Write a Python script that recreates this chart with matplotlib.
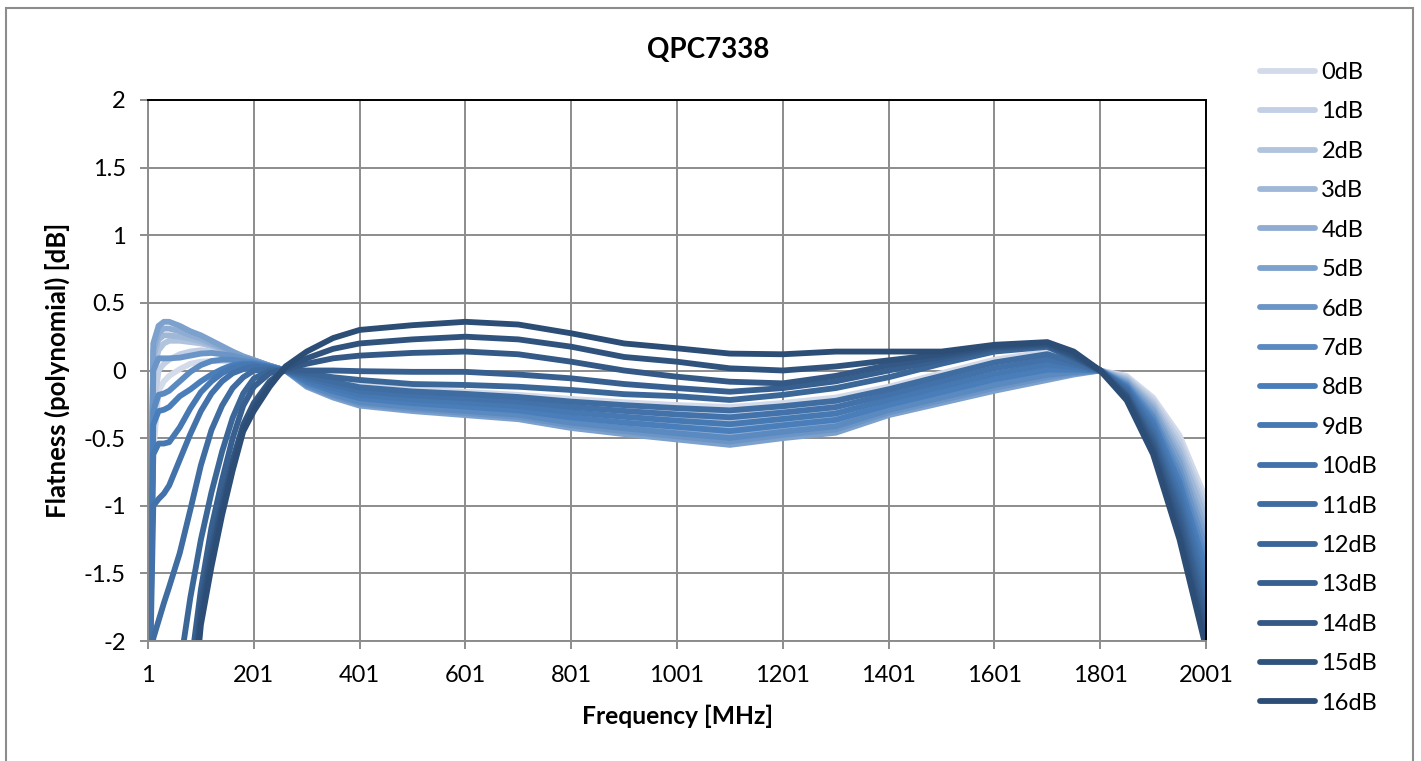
import numpy as np
import matplotlib.pyplot as plt
from matplotlib.colors import to_rgb
from matplotlib.patches import Rectangle

nan = np.nan

# frequency points [MHz]
freq = [1, 11, 21, 31, 41, 61, 81, 101, 121, 141, 161, 181, 201, 231, 261,
        301, 351, 401, 501, 601, 701, 801, 901, 1001, 1101, 1201, 1301, 1401,
        1501, 1601, 1701, 1751, 1801, 1851, 1901, 1951, 2001]

# flatness [dB] per attenuation state
db_0 = [-3.0, -0.6, -0.15, -0.08, -0.04, 0.01, 0.05, 0.065, 0.07, 0.07, 0.06, 0.05, 0.04, 0.02, 0.0,
        -0.03, -0.07, -0.11, -0.14, -0.157, -0.18, -0.21, -0.235, -0.255, -0.27, -0.24, -0.2, -0.12,
        -0.02, 0.08, 0.14, 0.07, 0.0, -0.04, -0.2, -0.48, -0.95]
db_1 = [-3.0, -0.3, 0.0, 0.05, 0.08, 0.12, 0.14, 0.15, 0.14, 0.13, 0.11, 0.09, 0.07, 0.03, 0.0,
        -0.046, -0.094, -0.137, -0.169, -0.188, -0.213, -0.249, -0.278, -0.301, -0.321, -0.287, -0.247, -0.158,
        -0.06, 0.038, 0.102, 0.052, 0.0, -0.05, -0.22, -0.52, -1.0]
db_2 = [-3.0, 0.0, 0.15, 0.2, 0.22, 0.22, 0.21, 0.2, 0.18, 0.155, 0.13, 0.1, 0.075, 0.035, 0.0,
        -0.063, -0.117, -0.165, -0.198, -0.22, -0.245, -0.288, -0.32, -0.348, -0.372, -0.335, -0.295, -0.196,
        -0.1, -0.004, 0.064, 0.034, 0.0, -0.06, -0.24, -0.56, -1.05]
db_3 = [-3.0, 0.1, 0.23, 0.26, 0.26, 0.25, 0.235, 0.215, 0.19, 0.16, 0.135, 0.1, 0.075, 0.035, 0.0,
        -0.079, -0.141, -0.192, -0.227, -0.251, -0.278, -0.327, -0.363, -0.394, -0.423, -0.382, -0.342, -0.235,
        -0.14, -0.045, 0.025, 0.015, 0.0, -0.07, -0.26, -0.6, -1.1]
db_4 = [-3.0, 0.15, 0.28, 0.31, 0.31, 0.29, 0.26, 0.235, 0.2, 0.165, 0.135, 0.1, 0.075, 0.035, 0.0,
        -0.095, -0.165, -0.219, -0.256, -0.283, -0.311, -0.366, -0.406, -0.44, -0.474, -0.429, -0.389, -0.273,
        -0.18, -0.087, -0.013, -0.003, 0.0, -0.08, -0.28, -0.64, -1.18]
db_5 = [-3.0, 0.2, 0.33, 0.36, 0.36, 0.33, 0.29, 0.26, 0.22, 0.18, 0.14, 0.105, 0.078, 0.035, 0.0,
        -0.12, -0.2, -0.26, -0.3, -0.33, -0.36, -0.425, -0.47, -0.51, -0.55, -0.5, -0.46, -0.33,
        -0.24, -0.15, -0.07, -0.03, 0.0, -0.09, -0.3, -0.68, -1.25]
db_6 = [-3.0, 0.0, 0.09, 0.09, 0.09, 0.095, 0.11, 0.125, 0.13, 0.12, 0.11, 0.09, 0.07, 0.035, 0.0,
        -0.112, -0.188, -0.246, -0.285, -0.314, -0.344, -0.405, -0.449, -0.487, -0.525, -0.476, -0.436, -0.311,
        -0.22, -0.129, -0.051, -0.021, 0.0, -0.1, -0.33, -0.73, -1.32]
db_7 = [-3.0, -0.3, -0.18, -0.17, -0.15, -0.08, -0.01, 0.04, 0.07, 0.08, 0.08, 0.07, 0.06, 0.03, 0.0,
        -0.104, -0.176, -0.233, -0.271, -0.299, -0.327, -0.386, -0.427, -0.464, -0.499, -0.453, -0.413, -0.292,
        -0.2, -0.108, -0.032, -0.012, 0.0, -0.11, -0.35, -0.78, -1.4]
db_8 = [-3.0, -0.4, -0.3, -0.29, -0.27, -0.19, -0.14, -0.08, -0.03, 0.01, 0.04, 0.05, 0.05, 0.03, 0.0,
        -0.087, -0.153, -0.205, -0.242, -0.267, -0.295, -0.347, -0.385, -0.417, -0.448, -0.405, -0.365, -0.254,
        -0.16, -0.066, 0.006, 0.006, 0.0, -0.12, -0.38, -0.83, -1.47]
db_9 = [-3.0, -0.62, -0.54, -0.54, -0.53, -0.42, -0.28, -0.16, -0.08, -0.02, 0.02, 0.04, 0.04, 0.02, 0.0,
        -0.071, -0.129, -0.178, -0.213, -0.236, -0.262, -0.308, -0.342, -0.371, -0.397, -0.358, -0.318, -0.215,
        -0.12, -0.025, 0.045, 0.025, 0.0, -0.13, -0.41, -0.88, -1.55]
db_10 = [-3.0, -1.0, -0.95, -0.91, -0.85, -0.66, -0.47, -0.3, -0.17, -0.08, -0.02, 0.01, 0.03, 0.02, 0.0,
         -0.055, -0.105, -0.151, -0.184, -0.204, -0.229, -0.269, -0.299, -0.325, -0.346, -0.311, -0.271, -0.177,
         -0.08, 0.017, 0.083, 0.043, 0.0, -0.14, -0.44, -0.93, -1.62]
db_11 = [-2.6, -1.98, -1.85, -1.72, -1.6, -1.35, -1.03, -0.7, -0.44, -0.26, -0.13, -0.05, 0.0, 0.01, 0.0,
         -0.038, -0.082, -0.124, -0.155, -0.173, -0.196, -0.23, -0.256, -0.278, -0.295, -0.264, -0.224, -0.139,
         -0.04, 0.059, 0.121, 0.061, 0.0, -0.15, -0.47, -0.98, -1.7]
db_12 = [nan, nan, nan, nan, nan, -2.2, -1.68, -1.25, -0.9, -0.6, -0.35, -0.17, -0.06, 0.0, 0.0,
         -0.02, -0.05, -0.07, -0.1, -0.107, -0.12, -0.144, -0.175, -0.19, -0.218, -0.18, -0.13, -0.05,
         0.05, 0.14, 0.175, 0.09, 0.0, -0.17, -0.5, -1.03, -1.78]
db_13 = [nan, nan, nan, nan, nan, nan, -2.22, -1.62, -1.16, -0.81, -0.5, -0.26, -0.12, -0.02, 0.01,
         0.0, 0.0, -0.005, -0.01, -0.01, -0.03, -0.058, -0.1, -0.13, -0.157, -0.13, -0.08, 0.0,
         0.08, 0.16, 0.185, 0.1, 0.0, -0.18, -0.53, -1.08, -1.85]
db_14 = [nan, nan, nan, nan, nan, nan, -2.5, -1.72, -1.32, -0.97, -0.66, -0.4, -0.24, -0.08, 0.01,
         0.05, 0.09, 0.11, 0.13, 0.14, 0.12, 0.065, 0.0, -0.046, -0.083, -0.095, -0.04, 0.04,
         0.1, 0.17, 0.19, 0.11, 0.0, -0.19, -0.56, -1.14, -1.93]
db_15 = [nan, nan, nan, nan, nan, nan, -2.6, -1.8, -1.38, -1.02, -0.7, -0.42, -0.27, -0.1, 0.02,
         0.09, 0.16, 0.2, 0.23, 0.25, 0.23, 0.176, 0.1, 0.065, 0.016, 0.0, 0.03, 0.075,
         0.12, 0.18, 0.2, 0.12, 0.0, -0.2, -0.59, -1.2, -2.0]
db_16 = [nan, nan, nan, nan, nan, nan, -2.7, -1.88, -1.45, -1.07, -0.74, -0.45, -0.3, -0.12, 0.03,
         0.14, 0.24, 0.3, 0.335, 0.36, 0.34, 0.275, 0.2, 0.164, 0.125, 0.12, 0.14, 0.14,
         0.14, 0.19, 0.21, 0.14, 0.0, -0.22, -0.62, -1.25, -2.05]

series = [db_0, db_1, db_2, db_3, db_4, db_5, db_6, db_7, db_8,
          db_9, db_10, db_11, db_12, db_13, db_14, db_15, db_16]
labels = [f'{i}dB' for i in range(17)]

plt.rcParams['font.family'] = ['Lato', 'DejaVu Sans']

# monochrome blue ramp, light -> accent -> dark
light = np.array(to_rgb('#d3dbea'))
accent = np.array(to_rgb('#4a7ebb'))
dark = np.array(to_rgb('#2c4d75'))
colors = []
for i in range(17):
    if i <= 8:
        colors.append(light + (accent - light) * i / 8)
    else:
        colors.append(accent + (dark - accent) * (i - 8) / 8)

W, H = 1421, 761
fig = plt.figure(figsize=(W / 100, H / 100), dpi=100)
ax = fig.add_axes([148 / W, 1 - 641 / H, (1206 - 148) / W, (641 - 100) / H])

for vals, c, lab in zip(series, colors, labels):
    ax.plot(freq, vals, color=c, lw=4.2, label=lab,
            solid_joinstyle='round', solid_capstyle='round')

ax.set_xlim(1, 2001)
ax.set_ylim(-2, 2)
ax.set_xticks(range(1, 2002, 200))
ax.set_yticks(np.arange(-2, 2.01, 0.5))
ax.set_yticklabels(['-2', '-1.5', '-1', '-0.5', '0', '0.5', '1', '1.5', '2'])
ax.grid(color='#8c8c8c', lw=1.4)
ax.set_axisbelow(True)
ax.tick_params(direction='out', length=6, width=1.4, color='#8c8c8c', labelsize=17)
ax.tick_params(axis='x', pad=11)
ax.tick_params(axis='y', pad=10)
for s in ['left', 'bottom']:
    ax.spines[s].set_color('#8c8c8c')
    ax.spines[s].set_linewidth(1.4)
for s in ['top', 'right']:
    ax.spines[s].set_color('black')
    ax.spines[s].set_linewidth(1.4)

fig.text(708 / W, 1 - 50 / H, 'QPC7338', ha='center', va='center',
         fontsize=20, fontweight='bold')
fig.text(57 / W, 1 - 370 / H, 'Flatness (polynomial) [dB]', rotation=90,
         ha='center', va='center', fontsize=18.5, fontweight='bold')
fig.text(677 / W, 1 - 716 / H, 'Frequency [MHz]', ha='center', va='center',
         fontsize=17.7, fontweight='bold')

fig.legend(loc='upper left', bbox_to_anchor=(1260 / W, 1 - 62 / H), frameon=False,
           fontsize=17, handlelength=2.35, handletextpad=0.25, labelspacing=0.78,
           borderpad=0, borderaxespad=0)

fig.patches.append(Rectangle((6 / W, -0.02), (1413 - 6) / W, 1 - 8 / H + 0.02,
                             transform=fig.transFigure, fill=False,
                             edgecolor='#8c8c8c', lw=1.5))

fig.savefig('out.png', dpi=100)
